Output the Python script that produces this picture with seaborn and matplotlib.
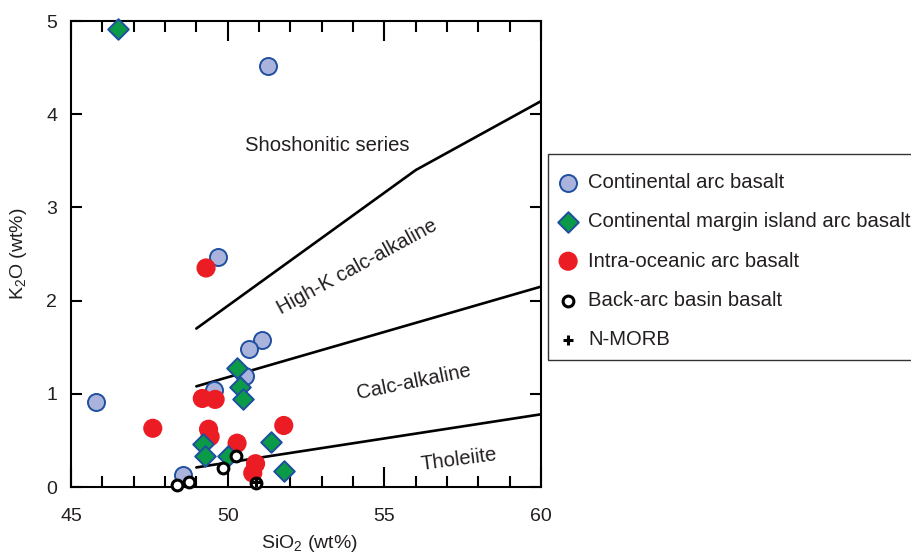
import matplotlib
matplotlib.use("Agg")
import matplotlib.pyplot as plt
import matplotlib.patches as mpatches
import seaborn as sns
import numpy as np
import pandas as pd
from matplotlib.ticker import MultipleLocator

# ---------------- data ----------------
ca_sio2 = [45.8, 51.29, 49.69, 51.10, 50.68, 50.55, 49.56, 48.57]
ca_k2o = [0.91, 4.52, 2.47, 1.58, 1.48, 1.19, 1.04, 0.13]

cmi_sio2 = [46.5, 50.30, 50.39, 50.48, 49.20, 49.29, 50.02, 51.38, 51.80]
cmi_k2o = [4.91, 1.28, 1.07, 0.94, 0.46, 0.33, 0.33, 0.48, 0.17]

io_sio2 = [49.31, 47.61, 49.19, 49.60, 49.39, 49.44, 50.30, 51.79, 50.89, 50.80]
io_k2o = [2.35, 0.63, 0.95, 0.94, 0.62, 0.54, 0.47, 0.66, 0.25, 0.15]

ba_sio2 = [48.37, 48.78, 49.86, 50.26, 50.90]
ba_k2o = [0.02, 0.05, 0.20, 0.33, 0.04]

nm_sio2 = [50.90]
nm_k2o = [0.05]

# boundary lines (Peccerillo & Taylor type)
sho_x = [49.0, 56.0, 60.0]
sho_y = [1.70, 3.40, 4.14]
hk_x = [49.0, 60.0]
hk_y = [1.08, 2.15]
th_x = [49.0, 60.0]
th_y = [0.21, 0.78]

series_names = ["Continental arc basalt",
                "Continental margin island arc basalt",
                "Intra-oceanic arc basalt",
                "Back-arc basin basalt",
                "N-MORB"]

region_labels = ["Shoshonitic series", "High-K calc-alkaline", "Calc-alkaline", "Tholeiite"]
region_x = [53.17, 54.12, 55.93, 57.39]
region_y = [3.66, 2.36, 1.13, 0.29]
region_rot = [0, 28.5, 11.5, 7.5]

x_ticks = [45, 50, 55, 60]
y_ticks = [0, 1, 2, 3, 4, 5]

# ---------------- style ----------------
sns.set_theme(style="white")
plt.rcParams["font.family"] = ["Liberation Sans", "DejaVu Sans"]
plt.rcParams["mathtext.default"] = "regular"
TXT = "#231f20"

fig = plt.figure(figsize=(9.12, 5.52), dpi=100)
ax = fig.add_axes([71 / 912, 1 - 487 / 552, 470 / 912, 466 / 552])

# boundary lines
for lx, ly in [(sho_x, sho_y), (hk_x, hk_y), (th_x, th_y)]:
    sns.lineplot(x=lx, y=ly, ax=ax, color="black", lw=1.9, zorder=1,
                 sort=False, estimator=None)

df_ca = pd.DataFrame({"x": ca_sio2, "y": ca_k2o})
df_cmi = pd.DataFrame({"x": cmi_sio2, "y": cmi_k2o})
df_io = pd.DataFrame({"x": io_sio2, "y": io_k2o})
df_ba = pd.DataFrame({"x": ba_sio2, "y": ba_k2o})
df_nm = pd.DataFrame({"x": nm_sio2, "y": nm_k2o})

sns.scatterplot(data=df_ca, x="x", y="y", ax=ax, marker="o", s=150,
                color="#aab3dc", edgecolor="#1f4fa0", linewidth=1.4,
                label=series_names[0], zorder=3, clip_on=False)
sns.scatterplot(data=df_io, x="x", y="y", ax=ax, marker="o", s=190,
                color="#ec1c24", edgecolor="none", linewidth=0,
                label=series_names[2], zorder=4, clip_on=False)
sns.scatterplot(data=df_cmi, x="x", y="y", ax=ax, marker="D", s=110,
                color="#0b9a48", edgecolor="#1f4fa0", linewidth=1.4,
                label=series_names[1], zorder=5, clip_on=False)
sns.scatterplot(data=df_ba, x="x", y="y", ax=ax, marker="o", s=60,
                color="white", edgecolor="black", linewidth=2.2,
                label=series_names[3], zorder=6, clip_on=False)
sns.scatterplot(data=df_nm, x="x", y="y", ax=ax, marker="+", s=60,
                color="black", linewidth=2.2,
                label=series_names[4], zorder=7, clip_on=False)

# region labels
for t, x, y, r in zip(region_labels, region_x, region_y, region_rot):
    ax.text(x, y, t, rotation=r, ha="center", va="center", fontsize=14.6,
            color=TXT, rotation_mode="anchor")

ax.set_xlim(45, 60)
ax.set_ylim(0, 5)
ax.set_xticks(x_ticks)
ax.set_yticks(y_ticks)
ax.xaxis.set_minor_locator(MultipleLocator(1))

for s in ax.spines.values():
    s.set_visible(True)
    s.set_color("black")
    s.set_linewidth(1.5)

ax.tick_params(axis="x", which="major", direction="in", top=True, bottom=True,
               length=14.5, width=1.5, color="black", labelsize=14,
               labelcolor=TXT, pad=15)
ax.tick_params(axis="x", which="minor", direction="in", top=True, bottom=True,
               length=8, width=1.5, color="black")
ax.tick_params(axis="y", which="major", direction="in", left=True, right=True,
               length=8, width=1.5, color="black", labelsize=14,
               labelcolor=TXT, pad=10)

ax.set_xlabel("SiO$_2$ (wt%)", fontsize=14, color=TXT, va="center")
ax.set_ylabel("K$_2$O (wt%)", fontsize=14, color=TXT, va="center")
ax.xaxis.set_label_coords((309 - 71) / 470, (487 - 543) / 466)
ax.yaxis.set_label_coords((18 - 71) / 470, 0.5)

# legend frame (drawn separately so the padding can match)
frame = mpatches.Rectangle((548 / 912, 1 - 360 / 552), 0.5, (360 - 154) / 552,
                           transform=fig.transFigure, fill=False,
                           edgecolor="#333333", linewidth=1.0)
fig.add_artist(frame)

h, l = ax.get_legend_handles_labels()
hd = dict(zip(l, h))
leg = ax.legend([hd[n] for n in series_names], series_names,
                loc="upper left", bbox_to_anchor=(558 / 912, 1 - 173 / 552),
                bbox_transform=fig.transFigure, borderaxespad=0,
                frameon=False, fontsize=14.6,
                labelspacing=1.0, borderpad=0, handletextpad=0.48,
                handlelength=1.0)
for t in leg.get_texts():
    t.set_color(TXT)

fig.savefig("out.png", dpi=100)
